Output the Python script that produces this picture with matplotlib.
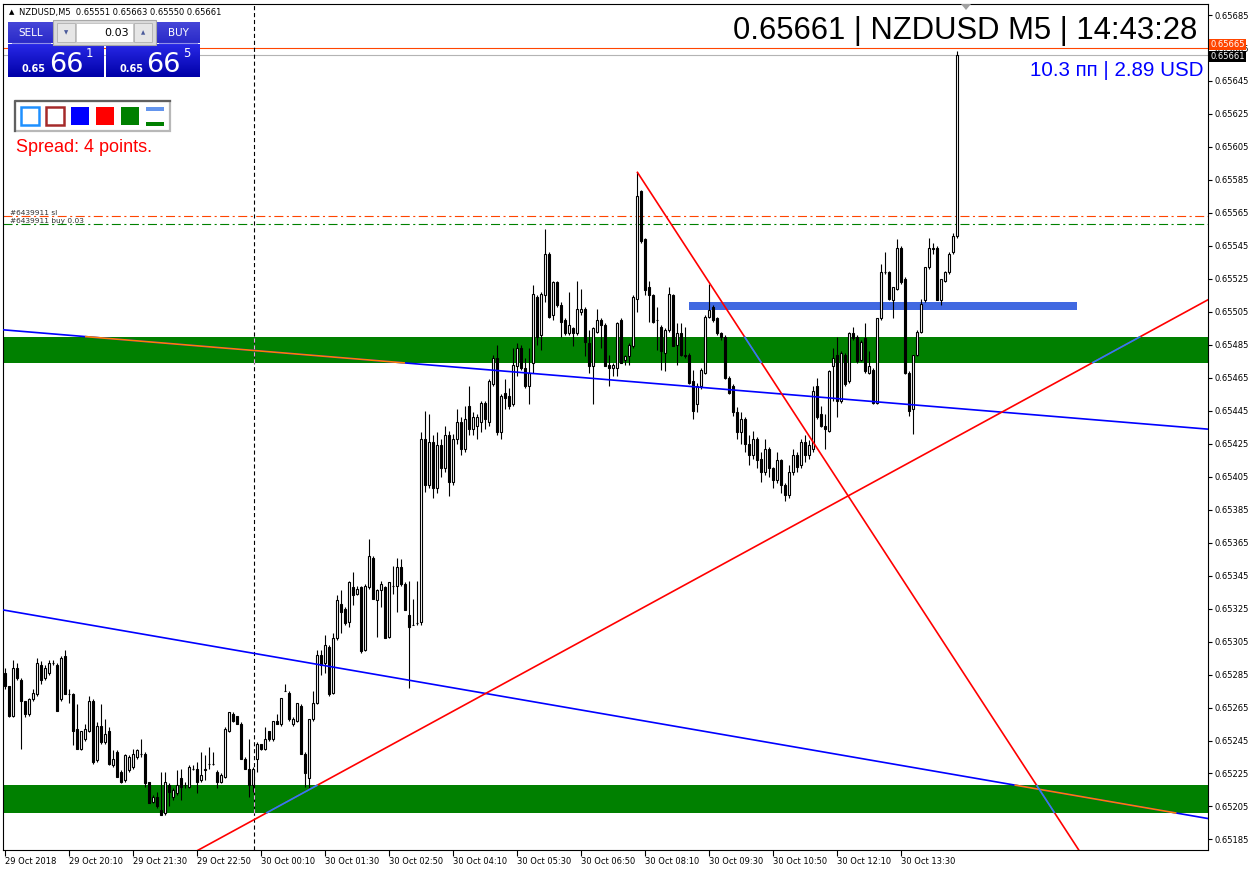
import numpy as np
import matplotlib.pyplot as plt
from matplotlib.patches import Rectangle, Polygon
from matplotlib.colors import LinearSegmentedColormap

plt.rcParams['lines.scale_dashes'] = False

PT = 1e-5  # prices below are in points (1e-5)

# NZDUSD M5, 29 Oct 18:50 .. 30 Oct 14:40
opens = [
    65286, 65278, 65260, 65289, 65282, 65269, 65261, 65270, 65273, 65291,
    65283, 65286, 65292, 65291, 65270, 65296, 65273, 65273, 65252, 65240,
    65246, 65251, 65269, 65233, 65254, 65244, 65251, 65230, 65238, 65226,
    65221, 65227, 65229, 65235, 65237, 65237, 65220, 65208, 65211, 65203,
    65201, 65218, 65211, 65213, 65222, 65218, 65217, 65228, 65228, 65221,
    65227, 65231, 65231, 65226, 65220, 65223, 65251, 65261, 65260, 65255,
    65234, 65228, 65218, 65234, 65243, 65240, 65251, 65246, 65257, 65255,
    65275, 65274, 65255, 65257, 65266, 65237, 65222, 65258, 65268, 65297,
    65292, 65302, 65274, 65307, 65328, 65325, 65317, 65338, 65334, 65338,
    65300, 65338, 65356, 65330, 65336, 65338, 65308, 65339, 65339, 65350,
    65340, 65321, 65315, 65316, 65317, 65428, 65400, 65426, 65398, 65424,
    65410, 65430, 65402, 65428, 65438, 65422, 65448, 65434, 65436, 65438,
    65450, 65438, 65461, 65477, 65432, 65456, 65454, 65449, 65472, 65483,
    65471, 65460, 65474, 65514, 65491, 65515, 65540, 65503, 65523, 65509,
    65500, 65492, 65495, 65492, 65505, 65507, 65486, 65472, 65493, 65500,
    65497, 65473, 65471, 65471, 65500, 65476, 65478, 65484, 65513, 65578,
    65549, 65520, 65515, 65500, 65496, 65480, 65494, 65515, 65485, 65492,
    65479, 65479, 65463, 65449, 65460, 65468, 65502, 65508, 65501, 65492,
    65490, 65465, 65460, 65444, 65432, 65440, 65425, 65418, 65428, 65416,
    65408, 65422, 65410, 65403, 65415, 65400, 65394, 65408, 65418, 65412,
    65426, 65418, 65422, 65460, 65443, 65436, 65433, 65472, 65479, 65451,
    65479, 65463, 65492, 65490, 65476, 65489, 65468, 65470, 65450, 65501,
    65529, 65529, 65512, 65519, 65544, 65525, 65468, 65446, 65479, 65493,
    65512, 65532, 65544, 65544, 65512, 65524, 65529, 65541, 65551,
]
highs = [
    65289, 65278, 65294, 65292, 65283, 65269, 65271, 65276, 65295, 65293,
    65291, 65294, 65294, 65292, 65296, 65300, 65276, 65274, 65267, 65251,
    65255, 65272, 65270, 65256, 65267, 65258, 65253, 65239, 65239, 65227,
    65237, 65236, 65240, 65240, 65246, 65238, 65220, 65212, 65214, 65226,
    65226, 65219, 65216, 65227, 65228, 65220, 65230, 65230, 65232, 65238,
    65236, 65241, 65238, 65227, 65225, 65253, 65262, 65262, 65260, 65256,
    65235, 65246, 65229, 65244, 65243, 65253, 65251, 65257, 65261, 65271,
    65279, 65275, 65259, 65268, 65267, 65238, 65258, 65275, 65300, 65300,
    65309, 65303, 65310, 65333, 65336, 65326, 65342, 65347, 65339, 65339,
    65340, 65367, 65357, 65337, 65342, 65339, 65341, 65351, 65356, 65355,
    65341, 65342, 65331, 65342, 65432, 65445, 65443, 65430, 65432, 65428,
    65436, 65433, 65431, 65446, 65441, 65448, 65460, 65444, 65443, 65451,
    65451, 65464, 65479, 65485, 65455, 65464, 65459, 65483, 65486, 65485,
    65477, 65483, 65521, 65515, 65517, 65555, 65541, 65524, 65524, 65511,
    65501, 65517, 65496, 65524, 65519, 65508, 65494, 65496, 65507, 65501,
    65498, 65479, 65474, 65499, 65501, 65479, 65486, 65515, 65590, 65579,
    65550, 65524, 65516, 65508, 65497, 65495, 65520, 65516, 65498, 65498,
    65496, 65480, 65470, 65462, 65471, 65503, 65522, 65509, 65502, 65493,
    65491, 65466, 65461, 65447, 65444, 65441, 65430, 65433, 65429, 65420,
    65428, 65423, 65411, 65420, 65416, 65401, 65412, 65422, 65420, 65428,
    65430, 65427, 65460, 65465, 65448, 65443, 65470, 65483, 65490, 65481,
    65480, 65493, 65496, 65491, 65488, 65498, 65481, 65471, 65501, 65534,
    65541, 65530, 65520, 65549, 65545, 65526, 65469, 65479, 65494, 65513,
    65532, 65550, 65547, 65545, 65525, 65530, 65541, 65553, 65663,
]
lows = [
    65276, 65259, 65259, 65282, 65240, 65259, 65260, 65269, 65272, 65279,
    65282, 65285, 65291, 65263, 65269, 65273, 65268, 65242, 65240, 65239,
    65245, 65250, 65231, 65232, 65243, 65243, 65230, 65229, 65223, 65219,
    65220, 65226, 65228, 65234, 65235, 65217, 65207, 65207, 65204, 65200,
    65200, 65205, 65209, 65212, 65209, 65216, 65216, 65227, 65213, 65220,
    65221, 65228, 65230, 65216, 65219, 65222, 65250, 65256, 65255, 65234,
    65228, 65211, 65214, 65226, 65239, 65239, 65245, 65245, 65255, 65254,
    65275, 65257, 65254, 65256, 65237, 65217, 65216, 65257, 65267, 65285,
    65286, 65272, 65273, 65306, 65310, 65315, 65314, 65327, 65333, 65298,
    65299, 65337, 65331, 65308, 65326, 65307, 65307, 65334, 65323, 65339,
    65324, 65277, 65315, 65315, 65315, 65396, 65398, 65392, 65395, 65405,
    65408, 65393, 65400, 65425, 65418, 65420, 65430, 65430, 65428, 65432,
    65434, 65436, 65460, 65430, 65428, 65446, 65446, 65448, 65466, 65470,
    65459, 65449, 65468, 65485, 65482, 65511, 65501, 65500, 65508, 65490,
    65491, 65491, 65484, 65491, 65503, 65478, 65468, 65449, 65492, 65483,
    65472, 65460, 65466, 65466, 65474, 65473, 65473, 65483, 65505, 65547,
    65515, 65499, 65498, 65482, 65470, 65469, 65493, 65484, 65473, 65478,
    65477, 65461, 65440, 65444, 65458, 65467, 65501, 65499, 65491, 65488,
    65464, 65455, 65442, 65428, 65425, 65420, 65412, 65416, 65410, 65402,
    65406, 65405, 65398, 65401, 65395, 65390, 65392, 65406, 65408, 65410,
    65414, 65416, 65420, 65440, 65435, 65422, 65432, 65451, 65441, 65450,
    65460, 65462, 65488, 65474, 65475, 65468, 65467, 65449, 65449, 65500,
    65528, 65512, 65501, 65518, 65522, 65467, 65442, 65431, 65478, 65492,
    65511, 65531, 65540, 65512, 65509, 65523, 65528, 65540, 65550,
]
closes = [
    65278, 65260, 65289, 65283, 65269, 65261, 65270, 65274, 65292, 65282,
    65289, 65292, 65292, 65263, 65295, 65273, 65273, 65251, 65240, 65251,
    65252, 65269, 65232, 65254, 65244, 65249, 65231, 65234, 65223, 65220,
    65236, 65235, 65237, 65239, 65237, 65219, 65207, 65211, 65205, 65200,
    65220, 65214, 65215, 65218, 65217, 65218, 65229, 65228, 65220, 65224,
    65228, 65231, 65231, 65220, 65224, 65252, 65262, 65257, 65255, 65234,
    65228, 65218, 65228, 65243, 65240, 65246, 65246, 65257, 65255, 65271,
    65275, 65258, 65258, 65268, 65237, 65225, 65258, 65268, 65297, 65291,
    65303, 65273, 65307, 65330, 65323, 65316, 65341, 65333, 65337, 65299,
    65339, 65357, 65331, 65336, 65340, 65307, 65341, 65339, 65350, 65340,
    65324, 65314, 65315, 65316, 65428, 65400, 65426, 65398, 65424, 65410,
    65430, 65402, 65428, 65438, 65422, 65440, 65434, 65441, 65441, 65450,
    65440, 65463, 65477, 65432, 65454, 65453, 65448, 65473, 65483, 65471,
    65460, 65468, 65516, 65490, 65516, 65540, 65502, 65523, 65509, 65499,
    65492, 65497, 65492, 65507, 65507, 65487, 65472, 65495, 65500, 65497,
    65472, 65471, 65473, 65498, 65474, 65478, 65485, 65514, 65575, 65548,
    65518, 65515, 65499, 65500, 65481, 65494, 65516, 65484, 65492, 65479,
    65478, 65462, 65445, 65460, 65470, 65502, 65506, 65500, 65492, 65490,
    65465, 65456, 65444, 65432, 65440, 65425, 65418, 65428, 65415, 65408,
    65422, 65410, 65403, 65415, 65400, 65394, 65408, 65418, 65411, 65426,
    65418, 65424, 65457, 65441, 65436, 65434, 65469, 65477, 65451, 65480,
    65461, 65492, 65489, 65475, 65487, 65469, 65472, 65450, 65501, 65529,
    65529, 65513, 65520, 65544, 65523, 65468, 65445, 65479, 65493, 65510,
    65532, 65544, 65543, 65512, 65525, 65529, 65540, 65551, 65661,
]

xtick_pos = list(range(0, 225, 16))
xtick_labels = ['29 Oct 2018', '29 Oct 20:10', '29 Oct 21:30', '29 Oct 22:50',
                '30 Oct 00:10', '30 Oct 01:30', '30 Oct 02:50', '30 Oct 04:10',
                '30 Oct 05:30', '30 Oct 06:50', '30 Oct 08:10', '30 Oct 09:30',
                '30 Oct 10:50', '30 Oct 12:10', '30 Oct 13:30']
yticks = [0.65185 + 0.0002 * k for k in range(26)]

# chart objects
bands = [(0.65474, 0.65490), (0.65201, 0.65218)]
blue_upper = [(0, 0.65494), (200, 0.65454)]
blue_lower = [(0, 0.65324), (200, 0.65240)]
red_up = [(60, 0.65194), (240, 0.65432)]
red_down = [(158, 0.65590), (198, 0.65441)]
level_box = (171, 268, 0.65506, 0.65511)
sl_price, buy_price = 0.65563, 0.65558
ask, bid = 0.65665, 0.65661
day_sep = 62.3

o = np.array(opens) * PT
h = np.array(highs) * PT
l = np.array(lows) * PT
c = np.array(closes) * PT
x = np.arange(len(o))

fig = plt.figure(figsize=(12.52, 8.72), dpi=100)
ax = fig.add_axes([3 / 1252, 22 / 872, 1205 / 1252, 846 / 872])
ax.set_xlim(-0.5, 300.75)
ax.set_ylim(0.651786, 0.656917)

for lo, hi in bands:
    ax.axhspan(lo, hi, color='#008000', lw=0, zorder=1)

ax.add_patch(Rectangle((level_box[0], level_box[2]), level_box[1] - level_box[0],
                       level_box[3] - level_box[2], color='#4169E1', lw=0, zorder=2))

# day separator
ax.axvline(day_sep, color='black', lw=0.8, ls=(0, (3, 2)), zorder=2.2)
for lo, hi in bands:
    ax.plot([day_sep, day_sep], [lo, hi], color='#E6A0E6', lw=0.8, ls=(0, (3, 2)), zorder=2.3)

# order / price lines
ax.axhline(sl_price, color='#FF4500', lw=0.8, ls=(0, (6.5, 2.5, 1.5, 2.5)), zorder=2)
ax.axhline(buy_price, color='#008000', lw=0.8, ls=(0, (6.5, 2.5, 1.5, 2.5)), zorder=2)
ax.axhline(ask, color='#FF4500', lw=0.8, zorder=2)
ax.axhline(bid, color='#B4B4B4', lw=0.8, zorder=2)
ax.text(1.2, sl_price, '#6439911 sl', fontsize=5.3, color='#303030', va='bottom', zorder=6)
ax.text(1.2, buy_price, '#6439911 buy 0.03', fontsize=5.3, color='#303030', va='bottom', zorder=6)

# candles
ax.vlines(x, l, h, color='black', lw=0.8, zorder=3)
up = c >= o
ax.bar(x[up], (c - o)[up], bottom=o[up], width=0.5, color='white',
       edgecolor='black', lw=0.8, zorder=4)
ax.bar(x[~up], (o - c)[~up], bottom=c[~up], width=0.5, color='black',
       edgecolor='black', lw=0.8, zorder=4)


def trend(p0, p1, col, alt, start=-1):
    (x0, y0), (x1, y1) = p0, p1
    k = (y1 - y0) / (x1 - x0)
    xa, xb = start, 302
    ax.plot([xa, xb], [y0 + k * (xa - x0), y0 + k * (xb - x0)], color=col, lw=1.2,
            zorder=5, solid_capstyle='butt')
    for lo, hi in bands:
        xs = sorted([x0 + (lo - y0) / k, x0 + (hi - y0) / k])
        s, e = max(xs[0], xa), min(xs[1], xb)
        if s < e:
            ax.plot([s, e], [y0 + k * (s - x0), y0 + k * (e - x0)], color=alt, lw=1.2,
                    zorder=5.1, solid_capstyle='butt')


trend(*blue_upper, '#0000FF', '#FF8000')
trend(*blue_lower, '#0000FF', '#FF8000')
trend(*red_up, '#FF0000', '#1C86FF')
trend(*red_down, '#FF0000', '#1C86FF', start=red_down[0][0])

# axes
ax.yaxis.tick_right()
ax.set_yticks(yticks)
ax.set_yticklabels([f'{v:.5f}' for v in yticks])
ax.set_xticks(xtick_pos)
ax.set_xticklabels(xtick_labels, ha='left')
ax.tick_params(axis='y', direction='out', length=3, width=0.8, pad=1.5, labelsize=6)
ax.tick_params(axis='x', direction='out', length=4, width=0.8, pad=0.8, labelsize=6)
for sp in ax.spines.values():
    sp.set_linewidth(0.8)
    sp.set_color('black')

tr = ax.get_yaxis_transform()
ax.text(1.002, ask + 0.00002, '0.65665', transform=tr, color='white', fontsize=6,
        va='center', bbox=dict(boxstyle='square,pad=0.15', fc='#FF4500', ec='none'), zorder=10)
ax.text(1.002, bid - 0.00001, '0.65661', transform=tr, color='white', fontsize=6,
        va='center', bbox=dict(boxstyle='square,pad=0.15', fc='black', ec='none'), zorder=11)

# overlay in pixel coordinates for the terminal widgets
ui = fig.add_axes([0, 0, 1, 1])
ui.patch.set_alpha(0)
ui.axis('off')


def grad_box(x0, x1, y0, y1, top, bot):
    cm = LinearSegmentedColormap.from_list('g', [top, bot])
    ui.imshow(np.linspace(0, 1, 32).reshape(-1, 1), cmap=cm, extent=(x0, x1, y1, y0),
              aspect='auto', zorder=3)


grad_box(8, 53, 22, 43, '#4646D8', '#2A2AC8')
grad_box(156, 200, 22, 43, '#4646D8', '#2A2AC8')
grad_box(8, 104, 44, 77, '#2828E6', '#0000A8')
grad_box(106, 200, 44, 77, '#2828E6', '#0000A8')
ui.add_patch(Rectangle((53, 20), 103, 25, fc='#DADADA', ec='#A8A8A8', lw=0.8, zorder=3))
ui.add_patch(Rectangle((76, 23), 57, 19, fc='white', ec='#C0C0C0', lw=0.6, zorder=4))
ui.add_patch(Rectangle((57, 23), 18, 19, fc='#E6E6E6', ec='#B0B0B0', lw=0.6, zorder=4))
ui.add_patch(Rectangle((134, 23), 18, 19, fc='#E6E6E6', ec='#B0B0B0', lw=0.6, zorder=4))
ui.text(66, 33, '▼', fontsize=4, color='#4A5A9A', ha='center', va='center', zorder=5)
ui.text(143, 33, '▲', fontsize=4, color='#4A5A9A', ha='center', va='center', zorder=5)
ui.text(129, 33, '0.03', fontsize=8, color='black', ha='right', va='center', zorder=5)
ui.plot([12, 50], [43, 43], color='#9090E8', lw=0.8, zorder=4)
ui.plot([159, 197], [43, 43], color='#9090E8', lw=0.8, zorder=4)
ui.text(30.5, 33, 'SELL', fontsize=7.5, color='white', ha='center', va='center', zorder=5)
ui.text(178, 33, 'BUY', fontsize=7.5, color='white', ha='center', va='center', zorder=5)
for bx, sup in [(22, '1'), (119, '5')]:
    ui.text(bx, 72, '0.65', fontsize=7, weight='bold', color='white', va='baseline', zorder=5)
    ui.text(bx + 27, 72, '66', fontsize=19.5, color='white', va='baseline', zorder=5)
    ui.text(bx + 64, 57, sup, fontsize=8.5, color='white', va='baseline', zorder=5)

# colour legend box
ui.add_patch(Rectangle((15, 101), 155, 30, fc='white', ec='#B8B8B8', lw=1.6, zorder=3))
ui.plot([15, 15, 170], [131, 101, 101], color='#606060', lw=1.6, zorder=4)
ui.add_patch(Rectangle((21, 107), 18, 18, fc='none', ec='#1E90FF', lw=1.8, zorder=4))
ui.add_patch(Rectangle((46, 107), 18, 18, fc='none', ec='#A52A2A', lw=1.8, zorder=4))
ui.add_patch(Rectangle((71, 107), 18, 18, fc='#0000FF', lw=0, zorder=4))
ui.add_patch(Rectangle((96, 107), 18, 18, fc='#FF0000', lw=0, zorder=4))
ui.add_patch(Rectangle((121, 107), 18, 18, fc='#008000', lw=0, zorder=4))
ui.add_patch(Rectangle((146, 107), 18, 4, fc='#6495ED', lw=0, zorder=4))
ui.add_patch(Rectangle((146, 122), 18, 4, fc='#008000', lw=0, zorder=4))

ui.text(15.5, 152, 'Spread: 4 points.', fontsize=13, family='Liberation Sans',
        color='#FF0000', va='baseline')
ui.text(8.5, 12.5, '▲', fontsize=5, color='black', va='center')
ui.text(19, 12.7, 'NZDUSD,M5  0.65551 0.65663 0.65550 0.65661', fontsize=6,
        color='black', va='center')
ui.text(1197, 39.5, '0.65661 | NZDUSD M5 | 14:43:28', fontsize=22.3,
        family='Liberation Sans', color='black', ha='right', va='baseline')
ui.text(1203, 76, '10.3 пп | 2.89 USD', fontsize=14.8, family='Liberation Sans',
        color='#0000FF', ha='right', va='baseline')
ui.add_patch(Polygon([(961, 4), (971, 4), (966, 10)], fc='#A0A0A0', lw=0))

ui.set_xlim(0, 1252)
ui.set_ylim(872, 0)

fig.savefig('out.png', dpi=100, facecolor='white')
